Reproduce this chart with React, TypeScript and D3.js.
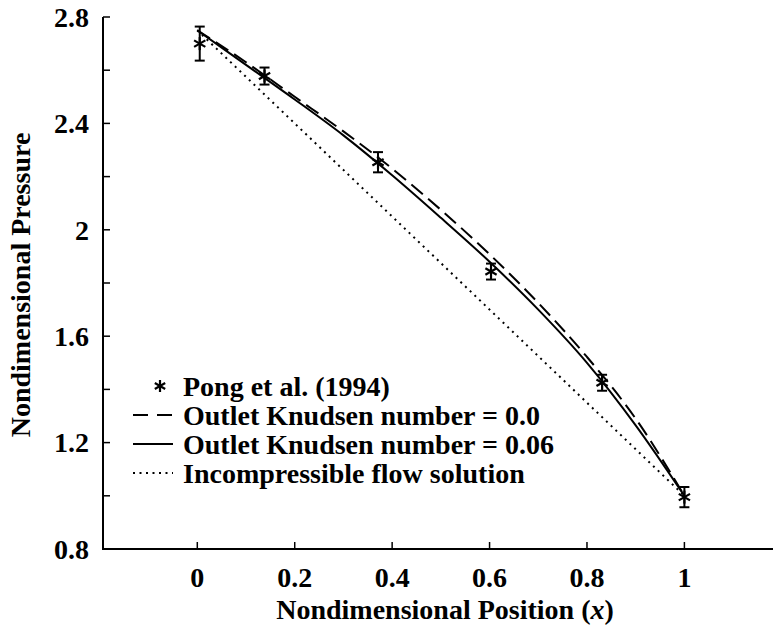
import React from "react";
import * as d3 from "d3";

const W = 773;
const H = 627;

// Pong et al. (1994) measurements
const pongX = [0.005, 0.138, 0.371, 0.603, 0.831, 1.0];
const pongY = [2.70, 2.578, 2.254, 1.843, 1.425, 0.995];
const pongErr = [0.064, 0.032, 0.038, 0.03, 0.03, 0.038];

// Curves
const curveX = [0, 0.1, 0.2, 0.3, 0.4, 0.5, 0.6, 0.7, 0.8, 0.9, 1.0];
const kn00 = [2.75, 2.63, 2.5, 2.37, 2.23, 2.075, 1.908, 1.725, 1.522, 1.29, 1.0];
const kn006 = [2.75, 2.62, 2.49, 2.355, 2.205, 2.045, 1.88, 1.70, 1.50, 1.265, 1.0];
const incompX = [0, 1];
const incompY = [2.75, 1.0];

const xTicks = [0, 0.2, 0.4, 0.6, 0.8, 1];
const xTickLabels = ["0", "0.2", "0.4", "0.6", "0.8", "1"];
const yTicks = [0.8, 1.0, 1.2, 1.4, 1.6, 1.8, 2.0, 2.2, 2.4, 2.6, 2.8];
const yTickLabels = ["0.8", "", "1.2", "", "1.6", "", "2", "", "2.4", "", "2.8"];

const legendLabels = [
  "Pong et al. (1994)",
  "Outlet Knudsen number = 0.0",
  "Outlet Knudsen number = 0.06",
  "Incompressible flow solution",
];

const FONT = "'Liberation Serif', 'Times New Roman', serif";
const FS = 28;

export default function App() {
  const x = d3.scaleLinear().domain([0, 1]).range([197.3, 684.4]);
  const y = d3.scaleLinear().domain([0.8, 2.8]).range([549, 17]);
  const axisX0 = 103;
  const axisX1 = W;

  const line = d3
    .line<[number, number]>()
    .x((d) => x(d[0]))
    .y((d) => y(d[1]))
    .curve(d3.curveMonotoneX);

  const dashedPath = line(curveX.map((v, i) => [v, kn00[i]]) as [number, number][]) || "";
  const solidPath = line(curveX.map((v, i) => [v, kn006[i]]) as [number, number][]) || "";
  const dottedPath =
    d3
      .line<[number, number]>()
      .x((d) => x(d[0]))
      .y((d) => y(d[1]))(incompX.map((v, i) => [v, incompY[i]]) as [number, number][]) || "";

  const star = (cx: number, cy: number, r: number, key: string) => {
    const a = r * 0.866;
    const b = r * 0.5;
    return (
      <g key={key} stroke="#000" strokeWidth={2.2}>
        <line x1={cx} y1={cy - r} x2={cx} y2={cy + r} />
        <line x1={cx - a} y1={cy - b} x2={cx + a} y2={cy + b} />
        <line x1={cx - a} y1={cy + b} x2={cx + a} y2={cy - b} />
      </g>
    );
  };

  const legendY = [386, 415, 444, 473];
  const legX0 = 133;
  const legX1 = 173;
  const legTextX = 183;

  return (
    <svg
      width={W}
      height={H}
      style={{ position: "absolute", left: 0, top: 0, background: "#fff" }}
      fontFamily={FONT}
    >
      <rect x={0} y={0} width={W} height={H} fill="#fff" />
      {/* axes */}
      <line x1={axisX0} y1={y(2.8)} x2={axisX0} y2={y(0.8) + 1} stroke="#000" strokeWidth={2} />
      <line x1={axisX0 - 1} y1={y(0.8)} x2={axisX1} y2={y(0.8)} stroke="#000" strokeWidth={2} />
      {yTicks.map((t, i) => (
        <g key={"yt" + i}>
          <line x1={axisX0} x2={axisX0 + 7} y1={y(t)} y2={y(t)} stroke="#000" strokeWidth={1.5} />
          {yTickLabels[i] && (
            <text
              x={89}
              y={y(t)}
              dy="0.35em"
              textAnchor="end"
              fontSize={FS}
              fontWeight="bold"
            >
              {yTickLabels[i]}
            </text>
          )}
        </g>
      ))}
      {xTicks.map((t, i) => (
        <g key={"xt" + i}>
          <line x1={x(t)} x2={x(t)} y1={y(0.8)} y2={y(0.8) - 7} stroke="#000" strokeWidth={1.5} />
          <text x={x(t)} y={587} textAnchor="middle" fontSize={FS} fontWeight="bold">
            {xTickLabels[i]}
          </text>
        </g>
      ))}
      <text x={445} y={619} textAnchor="middle" fontSize={FS} fontWeight="bold">
        Nondimensional Position (<tspan fontStyle="italic">x</tspan>)
      </text>
      <text
        transform={`translate(30, 285) rotate(-90)`}
        textAnchor="middle"
        fontSize={FS}
        fontWeight="bold"
      >
        Nondimensional Pressure
      </text>

      {/* curves */}
      <path d={dottedPath} fill="none" stroke="#000" strokeWidth={2} strokeDasharray="2 4.5" />
      <path d={dashedPath} fill="none" stroke="#000" strokeWidth={2} strokeDasharray="15 7" />
      <path d={solidPath} fill="none" stroke="#000" strokeWidth={2} />

      {/* data with error bars */}
      {pongX.map((px, i) => {
        const cx = x(px);
        const top = y(pongY[i] + pongErr[i]);
        const bot = y(pongY[i] - pongErr[i]);
        return (
          <g key={"p" + i}>
            <line x1={cx} x2={cx} y1={top} y2={bot} stroke="#000" strokeWidth={2} />
            <line x1={cx - 5} x2={cx + 5} y1={top} y2={top} stroke="#000" strokeWidth={2} />
            <line x1={cx - 5} x2={cx + 5} y1={bot} y2={bot} stroke="#000" strokeWidth={2} />
            {star(cx, y(pongY[i]), 6.5, "s" + i)}
          </g>
        );
      })}

      {/* legend */}
      {star(160, legendY[0], 6, "legstar")}
      <line x1={legX0} x2={legX1} y1={legendY[1]} y2={legendY[1]} stroke="#000" strokeWidth={2} strokeDasharray="15 9" />
      <line x1={legX0} x2={legX1} y1={legendY[2]} y2={legendY[2]} stroke="#000" strokeWidth={2} />
      <line x1={legX0} x2={legX1} y1={legendY[3]} y2={legendY[3]} stroke="#000" strokeWidth={2} strokeDasharray="2 4.5" />
      {legendLabels.map((l, i) => (
        <text key={"lg" + i} x={legTextX} y={legendY[i]} dy="0.35em" fontSize={FS} fontWeight="bold">
          {l}
        </text>
      ))}
    </svg>
  );
}
